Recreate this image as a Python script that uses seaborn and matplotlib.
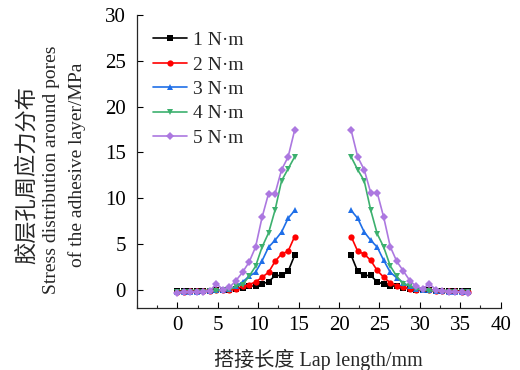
import numpy as np
import pandas as pd
import matplotlib
matplotlib.use("Agg")
import matplotlib.pyplot as plt
import seaborn as sns
from matplotlib.ticker import MultipleLocator

# ---- data ----
torques = ["1 N·m", "2 N·m", "3 N·m", "4 N·m", "5 N·m"]
x_left = np.linspace(0, 14.5, 19)
x_right = np.linspace(21.5, 36, 19)

left_1 = [-0.15, -0.15, -0.1, -0.1, -0.1, -0.1, -0.05, 0.0, 0.0, 0.1, 0.2, 0.35, 0.45, 0.65, 0.85, 1.55, 1.55, 2.0, 3.75]
left_2 = [-0.2, -0.2, -0.15, -0.15, -0.1, -0.1, -0.05, 0.0, 0.0, 0.1, 0.35, 0.55, 0.85, 1.35, 1.9, 3.1, 3.9, 4.2, 5.8]
left_3 = [-0.25, -0.25, -0.2, -0.2, -0.15, -0.1, -0.05, 0.0, 0.1, 0.35, 0.85, 1.45, 1.9, 3.15, 4.65, 5.4, 6.3, 7.8, 8.65]
left_4 = [-0.3, -0.3, -0.25, -0.2, -0.2, -0.15, -0.1, -0.05, 0.0, 0.36, 0.55, 1.45, 2.55, 4.65, 6.2, 8.7, 11.9, 13.2, 14.5]
left_5 = [-0.35, -0.3, -0.3, -0.25, -0.2, -0.1, 0.65, 0.0, 0.25, 1.0, 1.9, 3.0, 4.65, 7.9, 10.5, 10.5, 13.1, 14.5, 17.4]

right_1 = [3.75, 2.0, 1.55, 1.55, 0.85, 0.6, 0.45, 0.35, 0.2, 0.1, 0.0, 0.0, -0.05, -0.1, -0.1, -0.1, -0.1, -0.15, -0.15]
right_2 = [5.8, 4.2, 3.9, 3.2, 2.1, 1.35, 0.75, 0.45, 0.25, 0.1, 0.0, 0.05, -0.05, -0.1, -0.1, -0.15, -0.15, -0.2, -0.2]
right_3 = [8.65, 7.8, 6.3, 5.4, 4.65, 3.2, 1.9, 1.3, 0.75, 0.35, 0.1, 0.0, -0.05, -0.1, -0.15, -0.2, -0.2, -0.25, -0.25]
right_4 = [14.5, 13.1, 11.9, 8.7, 6.1, 4.65, 2.6, 1.45, 0.65, 0.4, 0.1, -0.05, -0.1, -0.15, -0.2, -0.2, -0.25, -0.25, -0.2]
right_5 = [17.4, 14.5, 13.1, 10.6, 10.6, 7.9, 4.7, 3.1, 2.05, 1.0, 0.36, 0.1, 0.65, 0.0, -0.1, -0.2, -0.2, -0.3, -0.35]

x_ticks = [0, 5, 10, 15, 20, 25, 30, 35, 40]
y_ticks = [0, 5, 10, 15, 20, 25, 30]

x_label = "搭接长度 Lap length/mm"
y_label_cn = "胶层孔周应力分布"
y_label_en1 = "Stress distribution around pores"
y_label_en2 = "of the adhesive layer/MPa"

lefts = [left_1, left_2, left_3, left_4, left_5]
rights = [right_1, right_2, right_3, right_4, right_5]

rows = []
for t, l, r in zip(torques, lefts, rights):
    for xv, yv in zip(x_left, l):
        rows.append((t, "L", xv, yv))
    for xv, yv in zip(x_right, r):
        rows.append((t, "R", xv, yv))
df = pd.DataFrame(rows, columns=["torque", "side", "x", "y"])

# ---- style ----
sns.set_style("ticks")
plt.rcParams["font.family"] = ["Liberation Serif", "Noto Sans CJK SC"]

colors = {"1 N·m": "#000000", "2 N·m": "#FF0000", "3 N·m": "#1F6FE8",
          "4 N·m": "#3CB06E", "5 N·m": "#AC78E0"}
markers = {"1 N·m": "s", "2 N·m": "o", "3 N·m": "^", "4 N·m": "v", "5 N·m": "D"}

W, H = 520, 370
fig = plt.figure(figsize=(5.2, 3.7), dpi=100)
ax = fig.add_axes([137 / W, 1 - 308 / H, (500.7 - 137) / W, (308 - 15) / H])

sns.lineplot(data=df, x="x", y="y", hue="torque", style="torque", units="side",
             estimator=None, palette=colors, markers=markers, dashes=False,
             linewidth=1.2, markersize=4.5, markeredgewidth=0, ax=ax, sort=False)

ax.set_xlim(-5, 40)
ax.set_ylim(-2, 30)
ax.set_xticks(x_ticks)
ax.set_yticks(y_ticks)
ax.xaxis.set_minor_locator(MultipleLocator(2.5))
ax.tick_params(axis="both", which="major", direction="in", length=4, width=0.8,
               labelsize=15, colors="#000000")
ax.tick_params(axis="y", which="major", pad=8)
ax.tick_params(axis="x", which="major", pad=6)
ax.tick_params(axis="x", which="minor", direction="in", length=2.5, width=0.8)
for s in ["top", "right"]:
    ax.spines[s].set_visible(False)
for s in ["left", "bottom"]:
    ax.spines[s].set_linewidth(0.9)

ax.set_xlabel(x_label, fontsize=14.5, labelpad=10)
ax.set_ylabel("")

# three-line y label with the sizes of the reference
fig.text(27 / W, 1 - 175 / H, y_label_cn, rotation=90, ha="center", va="center",
         fontsize=16)
fig.text(52 / W, 1 - 170 / H, y_label_en1, rotation=90, ha="center", va="center",
         fontsize=14)
fig.text(77 / W, 1 - 165 / H, y_label_en2, rotation=90, ha="center", va="center",
         fontsize=14)

leg = ax.legend(loc="upper left", bbox_to_anchor=(0.0, 0.998), frameon=False,
                fontsize=14, handlelength=1.75, handletextpad=0.3,
                labelspacing=0.35, borderaxespad=0.42)
for h in leg.legend_handles:
    h.set_markersize(4.5)

fig.savefig("out.png", dpi=100)
